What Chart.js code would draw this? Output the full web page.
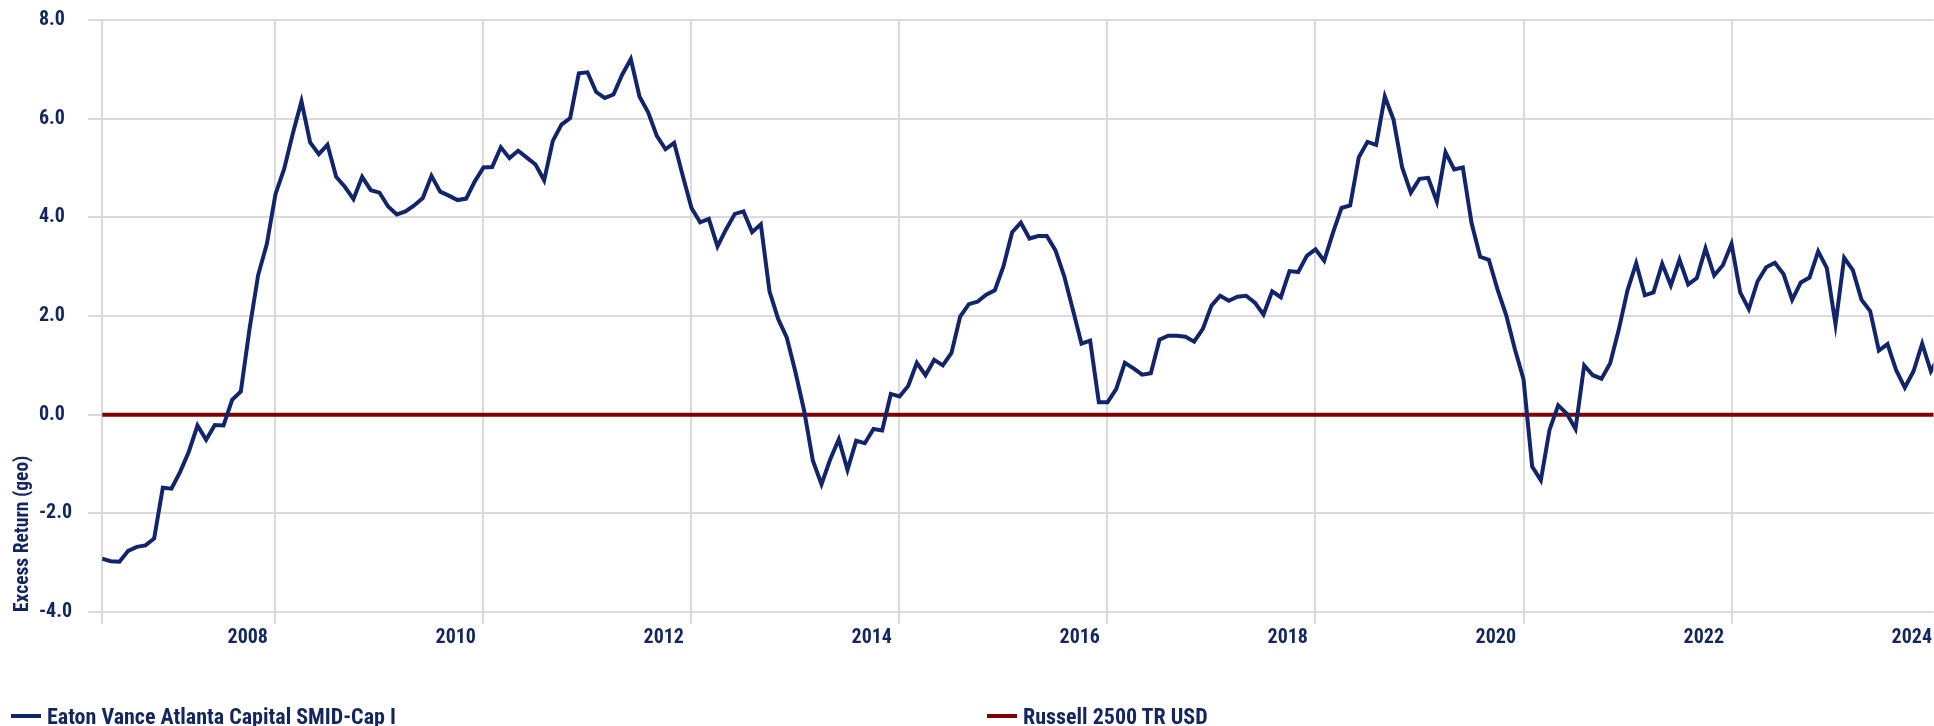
<!DOCTYPE html>
<html>
<head>
<meta charset="utf-8">
<script src="https://cdn.jsdelivr.net/npm/chart.js@4.4.1/dist/chart.umd.min.js"></script>
<style>
  body { margin: 0; background: #fff; }
  #wrap { position: relative; width: 1934px; height: 726px; }
  #legend {
    position: absolute; left: 0; top: 703px; width: 1934px; height: 26px;
    font: bold 22px 'Roboto Condensed', sans-serif; color: #14265e;
  }
  #legend .item { position: absolute; top: 0; height: 26px; display: flex; align-items: center; white-space: nowrap; }
  #legend .swatch { display: inline-block; width: 30px; height: 4px; margin-right: 6px; }
</style>
</head>
<body>
<div id="wrap">
  <canvas id="chart" width="1934" height="726"></canvas>
  <div id="legend"></div>
</div>
<script>
/* data */
const START_YEAR = 2006, START_MONTH = 5;   // first monthly point: May 2006
const fundName = 'Eaton Vance Atlanta Capital SMID-Cap I';
const benchName = 'Russell 2500 TR USD';

// rolling excess return (geo) of the fund vs the index, one value per month
const fundExcess = [
  -2.92, -2.97, -2.98, -2.76, -2.68, -2.65, -2.51, -1.48, -1.50, -1.16,
  -0.75, -0.22, -0.51, -0.21, -0.22,  0.30,  0.47,  1.73,  2.83,  3.46,
   4.47,  4.98,  5.70,  6.35,  5.52,  5.28,  5.47,  4.82,  4.62,  4.37,
   4.82,  4.55,  4.50,  4.22,  4.06,  4.12,  4.24,  4.39,  4.84,  4.52,
   4.44,  4.35,  4.38,  4.73,  5.01,  5.02,  5.42,  5.20,  5.35,  5.21,
   5.07,  4.75,  5.55,  5.88,  6.01,  6.92,  6.94,  6.54,  6.42,  6.49,
   6.89,  7.21,  6.45,  6.13,  5.65,  5.38,  5.51,  4.84,  4.19,  3.90,
   3.97,  3.41,  3.76,  4.07,  4.12,  3.70,  3.86,  2.50,  1.94,  1.56,
   0.86,  0.08, -0.93, -1.41, -0.91, -0.50, -1.12, -0.53, -0.58, -0.29,
  -0.32,  0.42,  0.37,  0.58,  1.05,  0.80,  1.11,  1.00,  1.25,  1.99,
   2.24,  2.29,  2.43,  2.52,  3.01,  3.70,  3.89,  3.57,  3.62,  3.62,
   3.33,  2.81,  2.13,  1.44,  1.50,  0.25,  0.25,  0.52,  1.05,  0.94,
   0.81,  0.84,  1.52,  1.60,  1.60,  1.58,  1.48,  1.74,  2.21,  2.41,
   2.31,  2.39,  2.41,  2.27,  2.03,  2.50,  2.38,  2.91,  2.89,  3.22,
   3.35,  3.12,  3.68,  4.19,  4.24,  5.22,  5.53,  5.47,  6.45,  5.98,
   5.01,  4.50,  4.78,  4.80,  4.32,  5.32,  4.97,  5.01,  3.89,  3.20,
   3.14,  2.54,  2.02,  1.33,  0.72, -1.05, -1.33, -0.31,  0.19,  0.02,
  -0.29,  1.00,  0.80,  0.73,  1.04,  1.73,  2.52,  3.07,  2.42,  2.48,
   3.06,  2.62,  3.14,  2.64,  2.77,  3.37,  2.82,  3.03,  3.46,  2.48,
   2.14,  2.70,  2.99,  3.08,  2.85,  2.33,  2.68,  2.78,  3.31,  2.97,
   1.83,  3.18,  2.93,  2.33,  2.10,  1.30,  1.43,  0.90,  0.55,  0.88,
   1.44,  0.88,  1.20
];
// the benchmark measured against itself is flat at zero
const benchExcess = fundExcess.map(() => 0);

const gridYears = [2008, 2010, 2012, 2014, 2016, 2018, 2020, 2022];
const yearLabels = ['2008', '2010', '2012', '2014', '2016', '2018', '2020', '2022', '2024'];
const yMin = -4, yMax = 8, yStep = 2;
const yTitle = 'Excess Return (geo)';

/* style */
const FONT = "'Roboto Condensed', sans-serif";
const NAVY = '#13256a';
const RED = '#7f0000';
const TEXT = '#14265e';
const GRID = '#dadada';
const X_MAX = 211.3;        // plot ends a bit past the last full month
const LABEL_SHIFT = 3.2;    // year labels sit a few months left of their grid line
const LEGEND_LEFT = [11, 987];

const monthIndex = y => (y - START_YEAR) * 12 + (1 - START_MONTH);
const tickFont = { family: FONT, size: 20, weight: 'bold' };

const htmlLegend = {
  id: 'htmlLegend',
  afterUpdate(chart) {
    const box = document.getElementById('legend');
    box.innerHTML = '';
    const items = chart.options.plugins.legend.labels.generateLabels(chart);
    items.forEach((item, i) => {
      const el = document.createElement('div');
      el.className = 'item';
      el.style.left = LEGEND_LEFT[i] + 'px';
      const sw = document.createElement('span');
      sw.className = 'swatch';
      sw.style.background = item.strokeStyle;
      const tx = document.createElement('span');
      tx.textContent = item.text;
      el.append(sw, tx);
      box.appendChild(el);
    });
  }
};

new Chart(document.getElementById('chart'), {
  type: 'line',
  data: {
    datasets: [
      { label: fundName, data: fundExcess.map((v, i) => ({ x: i, y: v })),
        borderColor: NAVY, backgroundColor: NAVY, borderWidth: 4, pointRadius: 0, tension: 0 },
      { label: benchName, data: benchExcess.map((v, i) => ({ x: i, y: v })),
        borderColor: RED, backgroundColor: RED, borderWidth: 4, pointRadius: 0, tension: 0 }
    ]
  },
  plugins: [htmlLegend],
  options: {
    responsive: false,
    animation: false,
    layout: { padding: { left: 7.5, top: 0, right: 0, bottom: 74 } },
    plugins: { legend: { display: false } },
    scales: {
      x: {
        type: 'linear', min: 0, max: X_MAX,
        grid: { color: GRID, lineWidth: 2, tickLength: 12 },
        border: { display: false },
        ticks: { display: false },
        afterBuildTicks: s => { s.ticks = [0, ...gridYears.map(monthIndex)].map(v => ({ value: v })); }
      },
      xl: {
        type: 'linear', position: 'bottom', min: 0, max: X_MAX,
        grid: { display: false, drawTicks: false },
        border: { display: false },
        ticks: { color: TEXT, font: tickFont, padding: 2, autoSkip: false, maxRotation: 0,
                 callback: (v, i) => yearLabels[i] },
        afterBuildTicks: s => {
          s.ticks = yearLabels.map(y => ({ value: monthIndex(+y) - LABEL_SHIFT }));
        }
      },
      y: {
        min: yMin, max: yMax,
        grid: { color: GRID, lineWidth: 2, tickLength: 14 },
        border: { display: false },
        ticks: { stepSize: yStep, color: TEXT, font: tickFont, crossAlign: 'far', padding: 8,
                 callback: v => v.toFixed(1) }
      },
      yTitle: {
        type: 'linear', position: 'left', weight: 1,
        grid: { display: false, drawTicks: false },
        border: { display: false },
        ticks: { display: false },
        title: { display: true, text: yTitle, align: 'start', color: TEXT,
                 font: { family: FONT, size: 19.5, weight: 'bold' }, padding: { top: 4, bottom: 4 } }
      }
    }
  }
});
</script>
</body>
</html>
